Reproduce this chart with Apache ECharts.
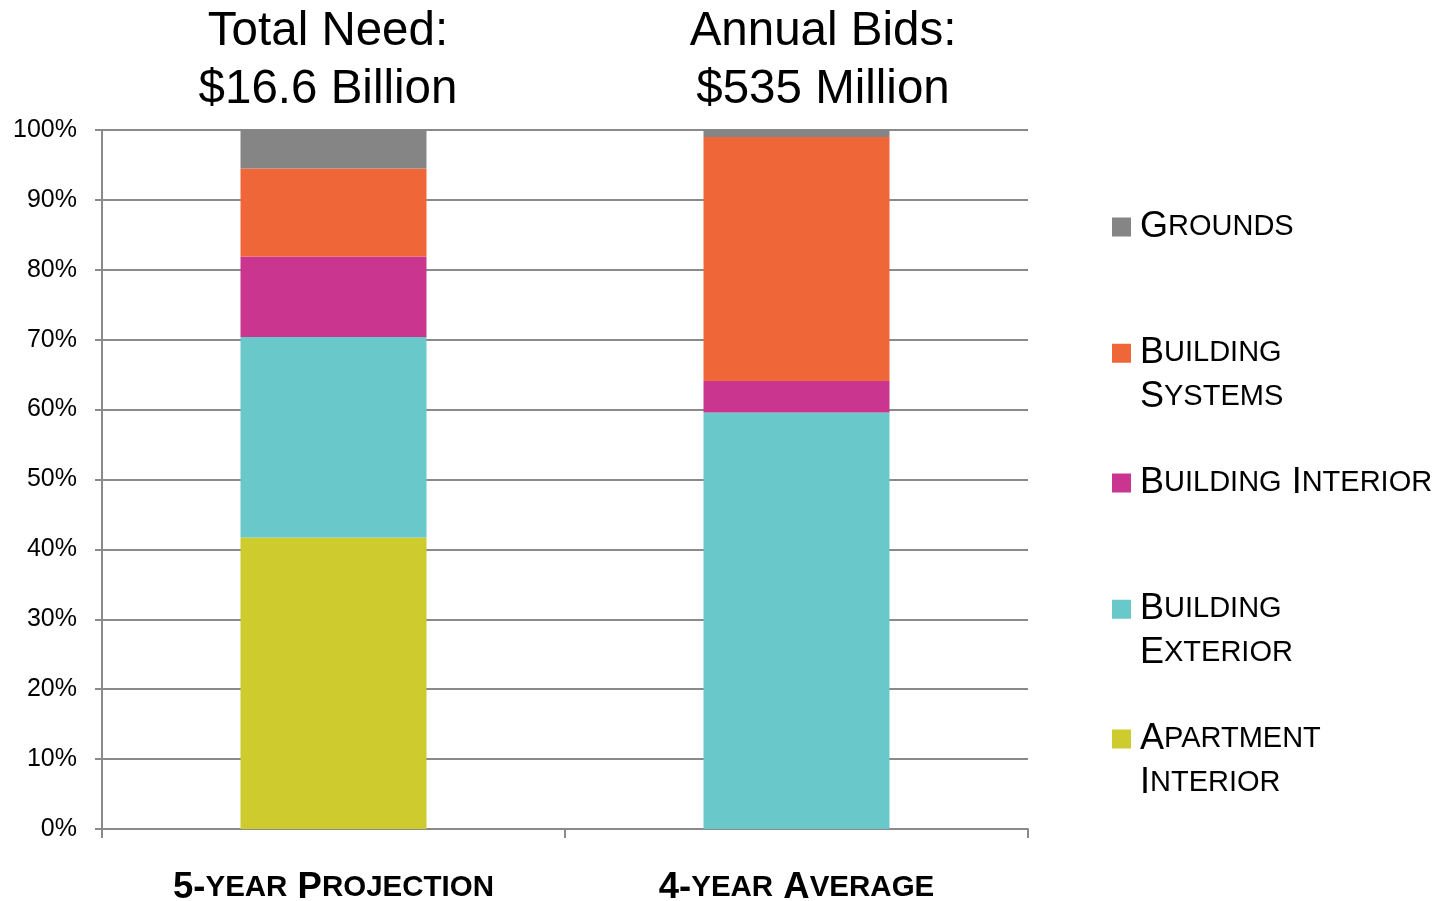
<!DOCTYPE html>
<html>
<head>
<meta charset="utf-8">
<title>Total Need vs Annual Bids</title>
<script src="https://cdn.jsdelivr.net/npm/echarts@6/dist/echarts.min.js"></script>
<style>
  html, body { margin: 0; padding: 0; background: #ffffff; }
  #chart { width: 1446px; height: 901px; }
</style>
</head>
<body>
<div id="chart"></div>
<script>
// Categories along the x axis
const categories = ['5-year Projection', '4-year Average'];

// Headline above each bar
const headlines = ['Total Need:\n$16.6 Billion', 'Annual Bids:\n$535 Million'];

// Share of spending (%) per component, bottom of the stack first
const seriesNames = ['Apartment Interior', 'Building Exterior', 'Building Interior', 'Building Systems', 'Grounds'];
const apartmentInterior = [41.7, 0];
const buildingExterior = [28.7, 59.6];
const buildingInterior = [11.5, 4.5];
const buildingSystems = [12.6, 34.9];
const grounds = [5.5, 1.0];

// Legend wording, split into display lines
const legendLines = {
  'Grounds': ['Grounds'],
  'Building Systems': ['Building', 'Systems'],
  'Building Interior': ['Building Interior'],
  'Building Exterior': ['Building', 'Exterior'],
  'Apartment Interior': ['Apartment', 'Interior']
};

// Y axis tick settings
const yTickStep = 10;
const yMax = 100;

const colors = {
  'Apartment Interior': '#CDCB2E',
  'Building Exterior': '#69C8C9',
  'Building Interior': '#C9358F',
  'Building Systems': '#EF6639',
  'Grounds': '#858585'
};

const FONT = '"Liberation Sans", Arial, Helvetica, sans-serif';
const GRID_COLOR = '#8a8a8a';

// Small-caps rendering: lowercase letters become smaller capitals
function smallCaps(str) {
  let out = '';
  let run = '';
  let runSmall = null;
  const flush = () => {
    if (run) out += '{' + (runSmall ? 's' : 'b') + '|' + run + '}';
    run = '';
  };
  for (const ch of str) {
    const isSmall = ch !== ch.toUpperCase();
    if (runSmall !== null && isSmall !== runSmall) flush();
    runSmall = isSmall;
    run += isSmall ? ch.toUpperCase() : ch;
  }
  flush();
  return out;
}

const seriesData = [apartmentInterior, buildingExterior, buildingInterior, buildingSystems, grounds];

const chart = echarts.init(document.getElementById('chart'), null, { renderer: 'canvas' });

const option = {
  backgroundColor: '#ffffff',
  animation: false,
  textStyle: { fontFamily: FONT },
  title: headlines.map((t, i) => ({
    text: t,
    left: i === 0 ? 328 : 823,
    top: 3,
    padding: 0,
    textAlign: 'center',
    textStyle: {
      fontFamily: FONT,
      fontSize: 47.5,
      fontWeight: 'normal',
      color: '#000000',
      lineHeight: 58
    }
  })),
  grid: {
    left: 102,
    right: 418,
    top: 130,
    bottom: 72,
    containLabel: false,
    outerBoundsMode: 'none'
  },
  legend: {
    orient: 'vertical',
    left: 1112,
    top: 209,
    padding: 0,
    itemGap: 49.75,
    itemWidth: 19,
    itemHeight: 19,
    icon: 'rect',
    selectedMode: false,
    data: ['Grounds', 'Building Systems', 'Building Interior', 'Building Exterior', 'Apartment Interior'],
    formatter: function (name) {
      const lines = legendLines[name].map(smallCaps);
      if (lines.length < 2) lines.push('{s| }');
      return lines.join('\n');
    },
    textStyle: {
      color: '#000000',
      padding: [44, 0, 0, 4],
      rich: {
        b: { fontFamily: FONT, fontSize: 36, lineHeight: 44, color: '#000000' },
        s: { fontFamily: FONT, fontSize: 29, lineHeight: 44, color: '#000000' }
      }
    }
  },
  xAxis: {
    type: 'category',
    data: categories,
    axisLine: { show: true, lineStyle: { color: GRID_COLOR, width: 2 } },
    axisTick: { show: true, length: 9, interval: 0, lineStyle: { color: GRID_COLOR, width: 2 } },
    axisLabel: {
      margin: 44,
      interval: 0,
      formatter: function (v) { return smallCaps(v); },
      rich: {
        b: { fontFamily: FONT, fontSize: 36.5, fontWeight: 'bold', lineHeight: 30, color: '#000000' },
        s: { fontFamily: FONT, fontSize: 29.5, fontWeight: 'bold', lineHeight: 30, color: '#000000' }
      }
    },
    splitLine: { show: false }
  },
  yAxis: {
    type: 'value',
    min: 0,
    max: yMax,
    interval: yTickStep,
    axisLine: { show: true, lineStyle: { color: GRID_COLOR, width: 2 } },
    axisTick: { show: true, length: 7, lineStyle: { color: GRID_COLOR, width: 2 } },
    axisLabel: {
      margin: 25,
      formatter: '{value}%',
      fontFamily: FONT,
      fontSize: 25,
      color: '#000000',
      padding: [8, 0, 0, 0]
    },
    splitLine: { show: true, lineStyle: { color: GRID_COLOR, width: 2 } }
  },
  series: seriesNames.map((name, i) => ({
    name: name,
    type: 'bar',
    stack: 'share',
    barWidth: 186,
    data: seriesData[i],
    itemStyle: { color: colors[name] },
    emphasis: { disabled: true }
  }))
};

chart.setOption(option);
</script>
</body>
</html>
